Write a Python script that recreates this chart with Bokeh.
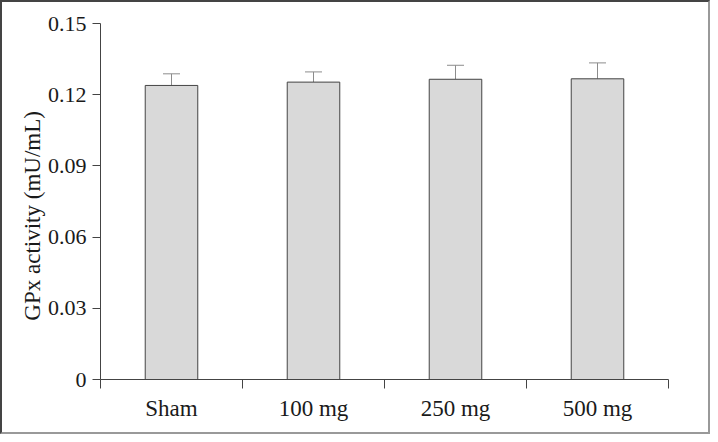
from bokeh.plotting import figure
from bokeh.layouts import column
from bokeh.models import FixedTicker, Whisker, ColumnDataSource, TeeHead
from bokeh.embed import file_html
from bokeh.resources import INLINE

groups = ["Sham", "100 mg", "250 mg", "500 mg"]
means = [0.1239, 0.1253, 0.1265, 0.1267]
errors = [0.0049, 0.0043, 0.0059, 0.0067]
y_ticks = [0, 0.03, 0.06, 0.09, 0.12, 0.15]
y_tick_labels = ["0", "0.03", "0.06", "0.09", "0.12", "0.15"]

xs = [i + 0.5 for i in range(len(groups))]
src = ColumnDataSource(dict(
    x=xs, top=means,
    upper=[m + e for m, e in zip(means, errors)],
))

p = figure(width=706, height=430, output_backend="svg", toolbar_location=None,
           x_range=(0, len(groups)), y_range=(0, 0.15),
           min_border_left=98, min_border_right=40, min_border_top=21, min_border_bottom=53)
p.outline_line_color = None
p.xgrid.grid_line_color = None
p.ygrid.grid_line_color = None
p.background_fill_color = "white"

p.vbar(x="x", top="top", width=0.37, source=src, fill_color="#d9d9d9", line_color="#444444", line_width=1)
p.add_layout(Whisker(source=src, base="x", lower="top", upper="upper", line_color="#8c8c8c", line_width=1,
                     lower_head=None, upper_head=TeeHead(size=17, line_color="#8c8c8c", line_width=1)))

font = "Liberation Serif"
ax = p.xaxis[0]
ax.ticker = FixedTicker(ticks=xs, minor_ticks=list(range(len(groups) + 1)))
ax.major_label_overrides = {x: g for x, g in zip(xs, groups)}
ax.major_tick_line_color = None
ax.major_tick_out = 0
ax.major_tick_in = 0
ax.minor_tick_out = 9
ax.minor_tick_in = 0
ax.minor_tick_line_color = "#444444"
ax.axis_line_color = "#444444"
ax.major_label_standoff = 7
ax.major_label_text_font = font
ax.major_label_text_font_size = "23px"
ax.major_label_text_color = "#1a1a1a"

ay = p.yaxis[0]
ay.ticker = FixedTicker(ticks=y_ticks, minor_ticks=[])
ay.major_label_overrides = {t: l for t, l in zip(y_ticks, y_tick_labels)}
ay.major_tick_out = 8
ay.major_tick_in = 0
ay.major_tick_line_color = "#444444"
ay.axis_line_color = "#444444"
ay.major_label_standoff = 6
ay.major_label_text_font = font
ay.major_label_text_font_size = "22px"
ay.major_label_text_color = "#1a1a1a"
ay.axis_label = "GPx activity (mU/mL)" + "\u00a0" * 5
ay.axis_label_text_font = font
ay.axis_label_text_font_style = "normal"
ay.axis_label_text_font_size = "23px"
ay.axis_label_text_color = "#1a1a1a"
ay.axis_label_standoff = 0

layout = column(p, styles={"border-top": "2px solid #444", "border-left": "2px solid #444",
                           "border-right": "2px solid #999", "border-bottom": "2px solid #999"})

open("out.html", "w").write(file_html(layout, INLINE))
